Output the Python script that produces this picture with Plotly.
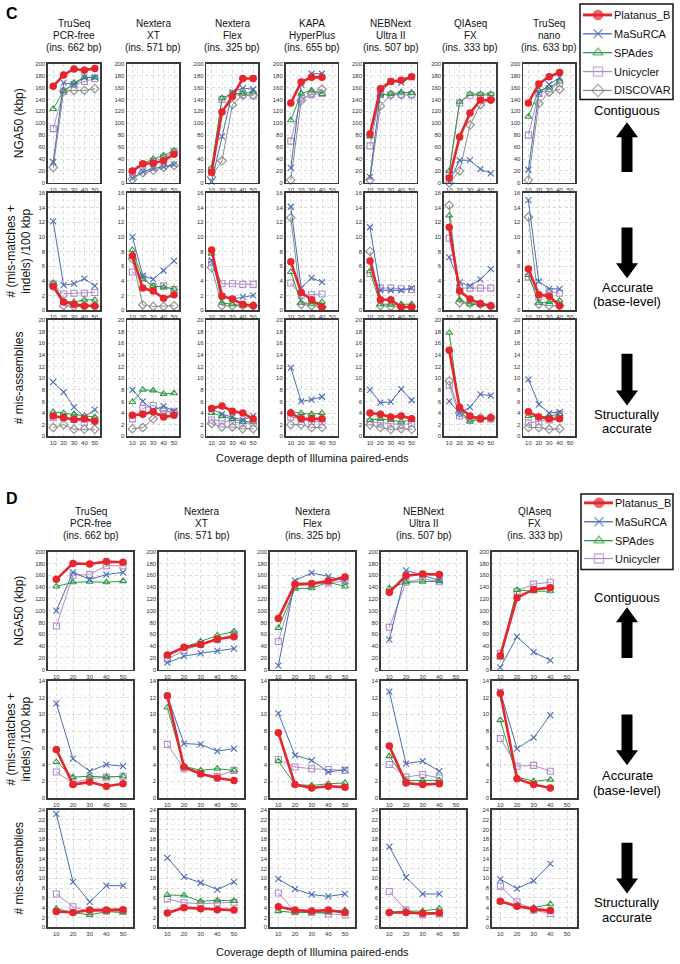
import plotly.graph_objects as go

# ---------------- data ----------------
COVERAGE = [10, 20, 30, 40, 50]
ASSEMBLERS_C = ["Platanus_B", "MaSuRCA", "SPAdes", "Unicycler", "DISCOVAR"]
ASSEMBLERS_D = ["Platanus_B", "MaSuRCA", "SPAdes", "Unicycler"]

C_LIB_NAME = ["TruSeq", "Nextera", "Nextera", "KAPA", "NEBNext", "QIAseq", "TruSeq"]
C_LIB_KIT = ["PCR-free", "XT", "Flex", "HyperPlus", "Ultra II", "FX", "nano"]
C_INSERT = [662, 571, 325, 655, 507, 333, 633]

D_LIB_NAME = ["TruSeq", "Nextera", "Nextera", "NEBNext", "QIAseq"]
D_LIB_KIT = ["PCR-free", "XT", "Flex", "Ultra II", "FX"]
D_INSERT = [662, 571, 325, 507, 333]

ROW_TITLES = ["NGA50 (kbp)", "# (mis-matches +<br>indels) /100 kbp", "# mis-assemblies"]
X_TITLE = "Coverage depth of Illumina paired-ends"

# Panel C : NGA50 (kbp), one list per library
C_NGA50_PLATANUS = [[162, 181, 191, 189, 192], [20, 32, 33, 37, 48], [18, 119, 145, 175, 175],
                    [134, 169, 177, 177], [82, 158, 170, 172, 178], [8, 77, 117, 139, 139], [134, 166, 178, 185]]
C_NGA50_MASURCA = [[35, 168, 165, 177, 177], [8, 19, 24, 27, 31], [2, 78, 152, 159, 157],
                   [25, 165, 183, 183], [10, 150, 170, 168, 177], [2, 38, 38, 23, 16], [22, 150, 165, 177]]
C_NGA50_SPADES = [[124, 154, 168, 177, 177], [20, 32, 40, 46, 54], [25, 142, 150, 150, 152],
                  [105, 150, 155, 149], [78, 148, 149, 152, 151], [20, 136, 149, 149, 149], [111, 155, 160, 170]]
C_NGA50_UNICYCLER = [[91, 153, 165, 170, 175], [18, 30, 36, 42, 52], [22, 140, 148, 148, 147],
                     [70, 142, 148, 150], [62, 148, 148, 148, 148], [15, 134, 147, 147, 147], [80, 150, 158, 167]]
C_NGA50_DISCOVAR = [[26, 154, 155, 155, 158], [6, 17, 21, 26, 29], [10, 37, 131, 147, 147],
                    [5, 138, 150, 157], [5, 129, 148, 148, 148], [0, 20, 97, 131, 140], [5, 133, 152, 157]]

# Panel C : # (mis-matches + indels) / 100 kbp
C_MM_PLATANUS = [[3.2, 1.1, 0.8, 0.6, 0.6], [7.4, 3.0, 2.6, 1.6, 2.1], [8.2, 1.9, 1.5, 0.8, 0.6],
                 [6.6, 2.4, 1.4, 0.4], [6.7, 1.4, 1.4, 0.4, 0.4], [11.3, 2.6, 1.5, 0.9, 0.6], [5.6, 2.1, 1.9, 0.6]]
C_MM_MASURCA = [[12.1, 3.4, 3.6, 4.3, 3.3], [10.0, 4.7, 4.2, 5.4, 6.7], [6.8, 1.9, 1.5, 1.8, 2.0],
                [14.1, 3.0, 4.4, 3.8], [11.3, 2.7, 2.7, 2.7, 3.0], [7.2, 3.8, 3.3, 4.2, 5.6], [15.0, 3.9, 2.9, 2.9]]
C_MM_SPADES = [[3.7, 1.2, 1.1, 1.4, 1.4], [8.2, 4.2, 3.3, 3.1, 2.9], [7.7, 1.0, 0.8, 0.6, 0.6],
               [5.2, 1.0, 0.9, 1.1], [5.3, 0.8, 0.8, 0.8, 0.8], [12.9, 1.4, 0.8, 0.7, 0.6], [4.8, 1.0, 1.1, 1.3]]
C_MM_UNICYCLER = [[3.5, 2.2, 2.3, 2.3, 2.4], [5.2, 4.4, 3.2, 3.3, 2.8], [6.5, 3.6, 3.6, 3.5, 3.5],
                  [3.7, 2.0, 2.1, 2.2], [5.0, 3.0, 3.0, 2.9, 2.8], [9.8, 3.0, 3.0, 3.0, 3.0], [4.5, 1.8, 2.5, 2.3]]
C_MM_DISCOVAR = [[3.4, 0.6, 0.5, 0.5, 0.5], [7.0, 0.7, 0.5, 0.5, 0.6], [5.8, 0.6, 0.6, 0.6, 0.6],
                 [12.6, 0.8, 0.6, 0.4], [8.0, 0.6, 0.5, 0.5, 0.5], [14.3, 1.0, 0.9, 0.8, 0.5], [12.7, 0.8, 0.6, 0.6]]

# Panel C : # mis-assemblies
C_MA_PLATANUS = [[3.5, 3.2, 2.9, 3.0, 2.6], [3.6, 3.8, 4.2, 3.3, 3.6], [4.8, 5.2, 4.3, 4.0, 3.0],
                 [4.0, 3.0, 3.0, 3.0], [4.0, 3.8, 3.3, 3.5, 3.0], [14.8, 5.0, 3.5, 3.0, 3.2], [4.2, 3.3, 3.0, 3.0]]
C_MA_MASURCA = [[9.3, 7.6, 5.0, 3.3, 4.6], [8.0, 6.0, 4.5, 5.2, 4.3], [4.7, 3.8, 3.3, 2.8, 3.5],
                [11.8, 6.0, 6.3, 6.8], [8.0, 5.8, 5.9, 8.1, 6.2], [6.0, 4.0, 5.0, 7.2, 7.0], [9.8, 5.5, 4.0, 4.2]]
C_MA_SPADES = [[4.2, 4.0, 3.8, 3.5, 3.3], [5.9, 8.0, 7.9, 7.3, 7.4], [4.0, 3.5, 3.0, 2.5, 2.5],
               [4.2, 4.0, 3.8, 4.0], [2.8, 3.0, 2.8, 2.5, 2.8], [17.8, 4.5, 2.5, 3.0, 3.3], [3.5, 3.3, 3.5, 3.8]]
C_MA_UNICYCLER = [[3.2, 3.3, 2.9, 2.4, 2.8], [3.0, 4.8, 5.3, 4.3, 4.3], [2.8, 2.7, 2.5, 2.2, 2.3],
                  [3.3, 3.0, 2.5, 2.5], [2.5, 2.3, 2.1, 2.0, 2.2], [8.8, 3.5, 3.0, 3.0, 3.0], [2.3, 2.5, 2.8, 3.8]]
C_MA_DISCOVAR = [[1.5, 2.0, 1.2, 1.2, 1.2], [1.3, 1.5, 3.0, 4.5, 4.0], [2.2, 1.6, 1.6, 1.3, 1.3],
                 [2.0, 2.0, 1.5, 1.5], [2.0, 1.5, 1.2, 1.3, 1.2], [9.5, 4.0, 3.0, 3.2, 3.2], [1.5, 1.5, 1.2, 1.3]]

# Panel D : NGA50 (kbp)
D_NGA50_PLATANUS = [[153, 180, 179, 183, 182], [25, 38, 43, 52, 56], [87, 145, 146, 150, 157],
                    [131, 159, 162, 161], [24, 122, 136, 139]]
D_NGA50_MASURCA = [[100, 165, 153, 161, 165], [12, 23, 28, 32, 36], [7, 151, 164, 158, 150],
                   [51, 168, 160, 151], [4, 56, 30, 16]]
D_NGA50_SPADES = [[141, 148, 149, 148, 150], [23, 38, 48, 58, 65], [71, 137, 138, 148, 141],
                  [138, 148, 149, 150], [21, 135, 133, 133]]
D_NGA50_UNICYCLER = [[74, 160, 161, 176, 176], [18, 33, 43, 51, 60], [48, 142, 144, 147, 150],
                     [72, 148, 154, 149], [28, 133, 145, 148]]

# Panel D : # (mis-matches + indels) / 100 kbp
D_MM_PLATANUS = [[5.8, 1.6, 1.9, 1.4, 1.7], [12.2, 3.7, 2.9, 2.4, 2.1], [7.8, 1.6, 1.2, 1.4, 1.3],
                 [6.2, 1.8, 1.6, 1.7], [12.5, 2.3, 1.6, 1.2]]
D_MM_MASURCA = [[11.3, 4.7, 3.2, 4.0, 3.8], [12.2, 6.5, 6.4, 5.6, 5.9], [10.1, 5.1, 4.5, 3.1, 3.4],
                [12.7, 4.1, 4.4, 3.2], [12.7, 5.9, 7.2, 9.9]]
D_MM_SPADES = [[4.3, 2.5, 2.6, 2.5, 2.6], [10.8, 3.8, 3.3, 3.5, 3.3], [4.4, 1.6, 1.5, 1.7, 1.8],
               [5.0, 2.1, 2.1, 2.1], [9.3, 2.5, 2.0, 2.2]]
D_MM_UNICYCLER = [[3.1, 1.8, 2.3, 2.5, 2.6], [6.4, 3.5, 2.9, 2.6, 3.3], [4.6, 3.7, 3.5, 3.4, 3.3],
                  [4.0, 2.5, 2.8, 2.4], [7.1, 3.8, 3.9, 3.2]]

# Panel D : # mis-assemblies
D_MA_PLATANUS = [[3.2, 3.0, 3.5, 3.5, 3.6], [2.9, 4.0, 3.8, 3.6, 3.5], [4.2, 3.5, 3.3, 3.5, 3.0],
                 [3.0, 3.0, 2.8, 2.9], [5.3, 4.3, 3.7, 3.4]]
D_MA_MASURCA = [[23.2, 9.3, 5.2, 8.5, 8.5], [14.2, 10.3, 9.1, 7.7, 9.3], [9.9, 7.8, 6.7, 6.3, 6.8],
                [16.5, 10.2, 6.8, 6.8], [9.8, 7.9, 9.5, 13.0]]
D_MA_SPADES = [[3.8, 3.0, 2.5, 3.2, 3.0], [6.6, 6.5, 5.3, 5.5, 5.4], [3.3, 3.0, 3.0, 3.0, 3.5],
               [3.0, 3.3, 3.3, 3.8], [5.2, 4.4, 4.0, 4.7]]
D_MA_UNICYCLER = [[6.8, 4.2, 3.2, 3.3, 3.3], [5.8, 5.0, 4.8, 5.0, 5.1], [7.0, 3.2, 3.0, 2.7, 2.5],
                  [7.3, 3.5, 2.5, 2.7], [8.4, 5.2, 3.5, 2.8]]

C_ROWS = [
    {"Platanus_B": C_NGA50_PLATANUS, "MaSuRCA": C_NGA50_MASURCA, "SPAdes": C_NGA50_SPADES,
     "Unicycler": C_NGA50_UNICYCLER, "DISCOVAR": C_NGA50_DISCOVAR},
    {"Platanus_B": C_MM_PLATANUS, "MaSuRCA": C_MM_MASURCA, "SPAdes": C_MM_SPADES,
     "Unicycler": C_MM_UNICYCLER, "DISCOVAR": C_MM_DISCOVAR},
    {"Platanus_B": C_MA_PLATANUS, "MaSuRCA": C_MA_MASURCA, "SPAdes": C_MA_SPADES,
     "Unicycler": C_MA_UNICYCLER, "DISCOVAR": C_MA_DISCOVAR},
]
D_ROWS = [
    {"Platanus_B": D_NGA50_PLATANUS, "MaSuRCA": D_NGA50_MASURCA, "SPAdes": D_NGA50_SPADES,
     "Unicycler": D_NGA50_UNICYCLER},
    {"Platanus_B": D_MM_PLATANUS, "MaSuRCA": D_MM_MASURCA, "SPAdes": D_MM_SPADES,
     "Unicycler": D_MM_UNICYCLER},
    {"Platanus_B": D_MA_PLATANUS, "MaSuRCA": D_MA_MASURCA, "SPAdes": D_MA_SPADES,
     "Unicycler": D_MA_UNICYCLER},
]

# ---------------- styling / layout ----------------
W, H = 680, 964
FONT = "Liberation Sans, Arial, Helvetica, sans-serif"

STYLE = {
    "Platanus_B": dict(color="#e5262c", symbol="circle", size=7.5, lw=2.6, mlw=0),
    "MaSuRCA": dict(color="#4a6db5", symbol="x-thin-open", size=6, lw=1.0, mlw=1.1),
    "SPAdes": dict(color="#2f9944", symbol="triangle-up-open", size=6, lw=1.0, mlw=1.1),
    "Unicycler": dict(color="#b08cc9", symbol="square-open", size=6, lw=1.0, mlw=1.1),
    "DISCOVAR": dict(color="#8c8c8c", symbol="diamond-open", size=6.5, lw=1.0, mlw=1.1),
}
DRAW_ORDER = ["DISCOVAR", "Unicycler", "SPAdes", "MaSuRCA", "Platanus_B"]


def fx(p):
    return p / W


def fy(p):
    return 1 - p / H


fig = go.Figure()
axes = {}
annotations = []
shapes = []
counter = [0]


def next_ids():
    counter[0] += 1
    k = counter[0]
    return (("xaxis" if k == 1 else f"xaxis{k}"), ("yaxis" if k == 1 else f"yaxis{k}"),
            ("x" if k == 1 else f"x{k}"), ("y" if k == 1 else f"y{k}"))


def add_axes(left, top, width, height, xr, yr, ydtick):
    xname, yname, xid, yid = next_ids()
    common = dict(showline=True, mirror=True, linecolor="#3a3a3a", linewidth=1.6,
                  showgrid=True, gridcolor="#c2c2c2", griddash="dot", gridwidth=0.6,
                  zeroline=False, ticks="", fixedrange=True,
                  tickfont=dict(size=6, color="#333333", family=FONT))
    axes[xname] = dict(common, domain=[fx(left), fx(left + width)], range=xr,
                       tick0=0, dtick=10, anchor=yid,
                       minor=dict(dtick=5, tick0=0, showgrid=True, gridcolor="#e3e3e3",
                                  griddash="dot", gridwidth=0.5))
    axes[yname] = dict(common, domain=[fy(top + height), fy(top)], range=yr,
                       tick0=0, dtick=ydtick, anchor=xid,
                       minor=dict(dtick=ydtick / 2, tick0=0, showgrid=True, gridcolor="#e3e3e3",
                                  griddash="dot", gridwidth=0.5))
    return xid, yid


def panel(rows, assemblers, names, kits, inserts, col_left, col_step, col_w,
          row_boxes, yranges, ydticks, xr, title_y):
    for r, (top, bottom) in enumerate(row_boxes):
        for c in range(len(names)):
            left = col_left + c * col_step
            xid, yid = add_axes(left, top, col_w, bottom - top, xr, yranges[r], ydticks[r])
            for a in DRAW_ORDER:
                if a not in assemblers:
                    continue
                vals = rows[r][a][c]
                st = STYLE[a]
                fig.add_trace(go.Scatter(
                    x=COVERAGE[:len(vals)], y=vals, mode="lines+markers", name=a,
                    xaxis=xid, yaxis=yid, cliponaxis=False,
                    line=dict(color=st["color"], width=st["lw"]),
                    marker=dict(symbol=st["symbol"], size=st["size"], color=st["color"],
                                line=dict(color=st["color"], width=st["mlw"])),
                    showlegend=False, hoverinfo="skip"))
    for c in range(len(names)):
        cx = col_left + c * col_step + col_w / 2
        for i, txt in enumerate([names[c], kits[c], f"(ins. {inserts[c]} bp)"]):
            annotations.append(dict(x=fx(cx), y=fy(title_y[i]), xref="paper", yref="paper",
                                    text=txt, showarrow=False, xanchor="center", yanchor="middle",
                                    font=dict(size=10, family=FONT, color="#111")))


C_ROW_BOXES = [(61, 181), (191, 309), (319, 436)]
D_ROW_BOXES = [(552, 671), (682, 800), (812, 930)]

panel(C_ROWS, ASSEMBLERS_C, C_LIB_NAME, C_LIB_KIT, C_INSERT, 48, 79.2, 52,
      C_ROW_BOXES, [[0, 200], [0, 16], [0, 20]], [20, 2, 2], [5, 55], [21, 33, 45])
panel(D_ROWS, ASSEMBLERS_D, D_LIB_NAME, D_LIB_KIT, D_INSERT, 48, 111, 85,
      D_ROW_BOXES, [[0, 200], [0, 14], [0, 24]], [20, 2, 2], [5, 56], [512, 524, 536])

# ---- legend keys drawn on a full-figure overlay axis (pixel coordinates) ----
oxname, oyname, oxid, oyid = next_ids()
axes[oxname] = dict(domain=[0, 1], range=[0, W], visible=False, fixedrange=True, anchor=oyid)
axes[oyname] = dict(domain=[0, 1], range=[H, 0], visible=False, fixedrange=True, anchor=oxid)


def legend_box(x0, y0, x1, y1, assemblers, item_y):
    shapes.append(dict(type="rect", xref="paper", yref="paper", x0=fx(x0), x1=fx(x1),
                       y0=fy(y0), y1=fy(y1), line=dict(color="#111", width=1.5),
                       fillcolor="white", layer="below"))
    for a, yy in zip(assemblers, item_y):
        st = STYLE[a]
        fig.add_trace(go.Scatter(
            x=[x0 + 3, x0 + 18, x0 + 32], y=[yy, yy, yy], mode="lines+markers",
            xaxis=oxid, yaxis=oyid, showlegend=False, hoverinfo="skip",
            line=dict(color=st["color"], width=st["lw"] + 0.3),
            marker=dict(symbol=st["symbol"], color=st["color"],
                        size=[0, st["size"] + 3, 0],
                        line=dict(color=st["color"], width=st["mlw"] + 0.2))))
        annotations.append(dict(x=fx(x0 + 31.5), y=fy(yy), xref="paper", yref="paper", text=a,
                                showarrow=False, xanchor="left", yanchor="middle",
                                font=dict(size=11, family=FONT, color="#111")))


legend_box(580, 1, 673, 97, ASSEMBLERS_C, [12, 31, 50, 69, 88])
legend_box(581, 494, 673, 570, ASSEMBLERS_D, [503, 522, 541, 559])

# row titles (y-axis titles)
for boxes in (C_ROW_BOXES, D_ROW_BOXES):
    for r, (top, bottom) in enumerate(boxes):
        cy = (top + bottom) / 2
        annotations.append(dict(x=fx(19), y=fy(cy), xref="paper", yref="paper",
                                text=ROW_TITLES[r], textangle=-90, showarrow=False,
                                xanchor="center", yanchor="middle",
                                font=dict(size=12, family=FONT, color="#111")))

# x titles
for yy in (458, 955):
    annotations.append(dict(x=fx(312), y=fy(yy), xref="paper", yref="paper", text=X_TITLE,
                            showarrow=False, xanchor="center", yanchor="middle",
                            font=dict(size=11, family=FONT, color="#111")))

# panel letters
for letter, yy in (("C", 11), ("D", 499)):
    annotations.append(dict(x=fx(4), y=fy(yy), xref="paper", yref="paper", text=f"<b>{letter}</b>",
                            showarrow=False, xanchor="left", yanchor="middle",
                            font=dict(size=16, family=FONT, color="#000")))

# side labels and block arrows
CX = 627


def side_text(txt, yy):
    annotations.append(dict(x=fx(CX), y=fy(yy), xref="paper", yref="paper", text=txt,
                            showarrow=False, xanchor="center", yanchor="middle",
                            font=dict(size=13, family=FONT, color="#000")))


def block_arrow(y0, y1, up):
    hw, sw, hl = 11, 5.5, 15
    if up:
        tip, base = y0, y1
        hb = tip + hl
    else:
        tip, base = y1, y0
        hb = tip - hl
    pts = [(CX, tip), (CX + hw, hb), (CX + sw, hb), (CX + sw, base), (CX - sw, base),
           (CX - sw, hb), (CX - hw, hb)]
    path = "M " + " L ".join(f"{fx(x):.5f},{fy(y):.5f}" for x, y in pts) + " Z"
    shapes.append(dict(type="path", path=path, xref="paper", yref="paper",
                       fillcolor="#000", line=dict(width=0)))


side_text("Contiguous", 108)
block_arrow(120, 170, True)
block_arrow(226, 277, False)
side_text("Accurate", 286)
side_text("(base-level)", 300)
block_arrow(353, 405, False)
side_text("Structurally", 414)
side_text("accurate", 428)

side_text("Contiguous", 598)
block_arrow(608, 659, True)
block_arrow(716, 767, False)
side_text("Accurate", 777)
side_text("(base-level)", 792)
block_arrow(845, 896, False)
side_text("Structurally", 905)
side_text("accurate", 920)

fig.update_layout(
    width=W, height=H, margin=dict(l=0, r=0, t=0, b=0),
    paper_bgcolor="white", plot_bgcolor="rgba(0,0,0,0)",
    font=dict(family=FONT, color="#111"),
    showlegend=False, hovermode=False,
    annotations=annotations, shapes=shapes,
    **axes,
)

fig.write_html("out.html",
               config={"displayModeBar": False, "staticPlot": True},
               post_script="document.body.style.margin='0px';document.body.style.overflow='hidden';")
